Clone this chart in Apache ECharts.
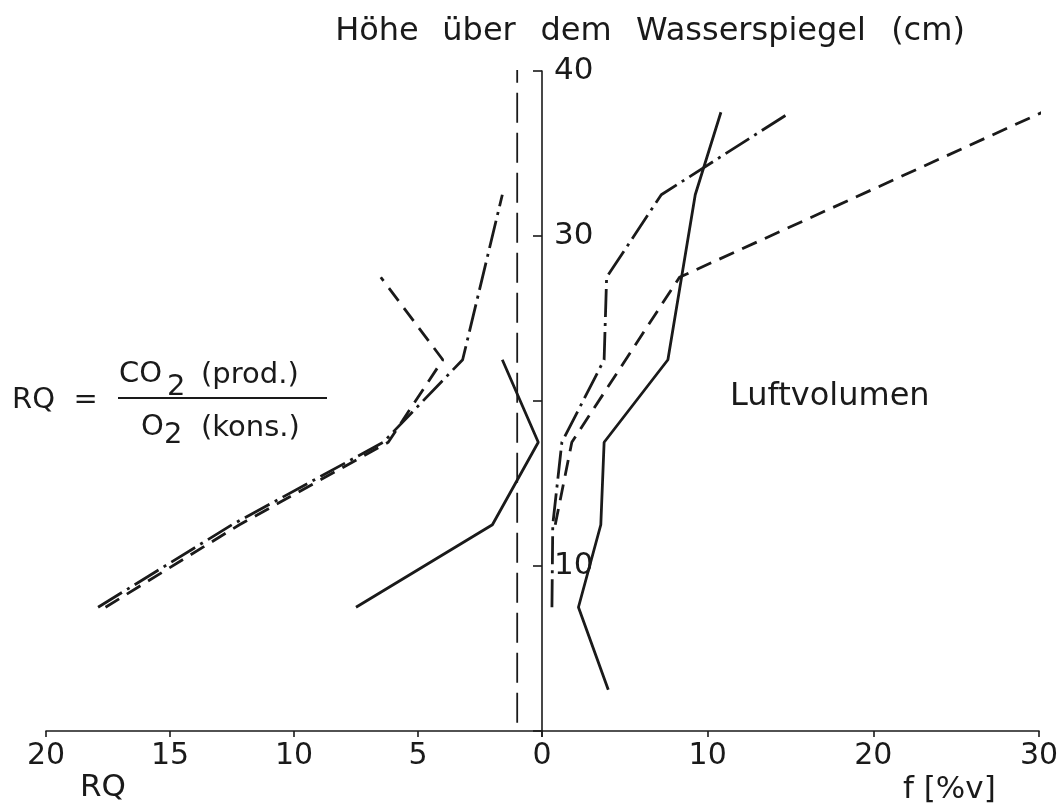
<!DOCTYPE html>
<html>
<head>
<meta charset="utf-8">
<script src="https://cdn.jsdelivr.net/npm/echarts@6/dist/echarts.min.js"></script>
<style>
  html, body { margin: 0; padding: 0; background: #fff; }
  #chart { width: 1064px; height: 803px; }
</style>
</head>
<body>
<div id="chart"></div>
<script>
// Höhe über dem Wasserspiegel (cm) and values
// left half: RQ (axis reversed, 20 .. 0)
const rqSolidH = [7.5, 12.5, 17.5, 22.5]
const rqSolid = [7.5, 2.0, 0.15, 1.6]
const rqDashedH = [7.5, 12.5, 17.5, 22.5, 27.5]
const rqDashed = [17.6, 12.2, 6.2, 4.0, 6.5]
const rqDashDotH = [7.5, 12.5, 17.5, 22.5, 32.5]
const rqDashDot = [17.9, 12.5, 6.4, 3.2, 1.6]
const rqRefH = [0.5, 40.2]
const rqRef = [1, 1]

// right half: Luftvolumen f [%v]
const fSolidH = [2.5, 7.5, 12.5, 17.5, 22.5, 32.5, 37.5]
const fSolid = [4.0, 2.2, 3.55, 3.75, 7.6, 9.25, 10.8]
const fDashedH = [12.5, 17.5, 27.5, 37.5]
const fDashed = [0.8, 1.8, 8.3, 30.2]
const fDashDotH = [7.5, 12.5, 17.5, 22.5, 27.5, 32.5, 37.5]
const fDashDot = [0.6, 0.65, 1.2, 3.75, 3.9, 7.2, 15.0]

const rqTicks = [0, 5, 10, 15, 20]
const fTicks = [0, 10, 20, 30]
const hTicks = [10, 30, 40] // labelled heights (20 carries only a tick)

const titleWords = ['Höhe', 'über', 'dem', 'Wasserspiegel', '(cm)']
const titleX = [377, 479, 576, 751, 928]

const ink = '#1a1a1a'
const font = 'DejaVu Sans'
const pairs = (xs, hs) => xs.map((v, i) => [v, hs[i]])

const DASH = [16, 9]
const DASHDOT = [28, 6, 3, 6]

const chart = echarts.init(document.getElementById('chart'))

function lineSeries(xi, data, type, width) {
  return {
    type: 'line',
    xAxisIndex: xi,
    yAxisIndex: xi,
    data: data,
    symbol: 'none',
    silent: true,
    lineStyle: { color: ink, width: width || 2.8, type: type }
  }
}

function label(text, x, y, size, align) {
  return {
    type: 'text',
    x: x,
    y: y,
    style: { text: text, font: size + 'px "' + font + '"', fill: ink, align: align || 'left', verticalAlign: 'middle' }
  }
}

chart.setOption({
  animation: false,
  backgroundColor: '#fff',
  grid: [
    { left: 46, top: 71, width: 496, height: 660, outerBoundsMode: 'none' },
    { left: 542, top: 71, width: 497, height: 660, outerBoundsMode: 'none' }
  ],
  xAxis: [
    {
      gridIndex: 0,
      type: 'value',
      inverse: true,
      min: 0,
      max: 20,
      interval: 5,
      axisLine: { lineStyle: { color: ink, width: 1.6 } },
      axisTick: { length: 6, lineStyle: { color: ink, width: 1.6 } },
      axisLabel: {
        color: ink,
        fontFamily: font,
        fontSize: 30,
        margin: 10,
        formatter: v => (rqTicks.includes(v) ? String(v) : '')
      },
      splitLine: { show: false }
    },
    {
      gridIndex: 1,
      type: 'value',
      min: 0,
      max: 30,
      interval: 10,
      axisLine: { lineStyle: { color: ink, width: 1.6 } },
      axisTick: { length: 6, lineStyle: { color: ink, width: 1.6 } },
      axisLabel: {
        color: ink,
        fontFamily: font,
        fontSize: 30,
        margin: 10,
        formatter: v => (v !== 0 && fTicks.includes(v) ? String(v) : '')
      },
      splitLine: { show: false }
    }
  ],
  yAxis: [
    { gridIndex: 0, type: 'value', min: 0, max: 40, interval: 10, show: false },
    {
      gridIndex: 1,
      type: 'value',
      min: 0,
      max: 40,
      interval: 10,
      position: 'left',
      axisLine: { show: true, lineStyle: { color: ink, width: 1.6 } },
      axisTick: { show: true, length: 9, lineStyle: { color: ink, width: 1.6 } },
      axisLabel: {
        inside: true,
        margin: 12,
        color: ink,
        fontFamily: font,
        fontSize: 31,
        formatter: v => (hTicks.includes(v) ? String(v) : '')
      },
      splitLine: { show: false }
    }
  ],
  graphic: titleWords.map((w, i) => label(w, titleX[i], 32, 32, 'center')).concat([
    label('RQ  =', 12, 400, 29),
    { type: 'line', shape: { x1: 118, y1: 398, x2: 327, y2: 398 }, style: { stroke: ink, lineWidth: 2 } },
    label('CO', 119, 374, 29),
    label('2', 167, 387, 29),
    label('(prod.)', 201, 375, 29),
    label('O', 141, 427, 29),
    label('2', 164, 435, 29),
    label('(kons.)', 201, 428, 29),
    label('Luftvolumen', 730, 397, 32),
    label('RQ', 80, 788, 31),
    label('f [%v]', 903, 790, 31)
  ]),
  series: [
    lineSeries(0, pairs(rqRef, rqRefH), [30, 10], 1.8),
    lineSeries(0, pairs(rqSolid, rqSolidH), 'solid'),
    lineSeries(0, pairs(rqDashed, rqDashedH), DASH),
    lineSeries(0, pairs(rqDashDot, rqDashDotH), DASHDOT),
    lineSeries(1, pairs(fSolid, fSolidH), 'solid'),
    lineSeries(1, pairs(fDashed, fDashedH), DASH),
    lineSeries(1, pairs(fDashDot, fDashDotH), DASHDOT)
  ]
})
</script>
</body>
</html>
